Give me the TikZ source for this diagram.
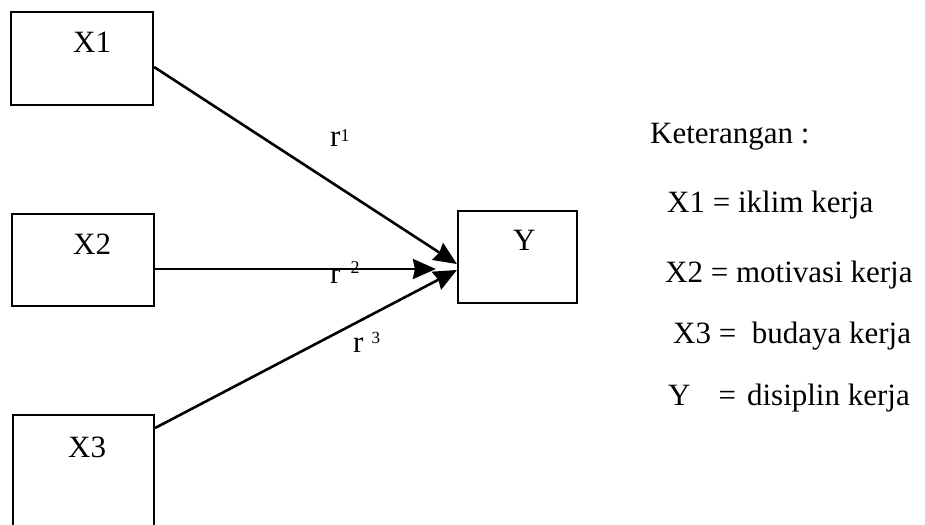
\documentclass[tikz,border=0pt]{standalone}
\usepackage{fontspec}
\setmainfont{Liberation Serif}
\usetikzlibrary{arrows.meta}
\begin{document}
\begin{tikzpicture}[x=1pt,y=-1pt,
  box/.style={draw, line width=2.2pt, inner sep=0pt},
  lbl/.style={anchor=base west, inner sep=0pt, font=\fontsize{31}{37}\selectfont},
  conn/.style={line width=2.6pt, -{Stealth[length=23pt,width=20pt,inset=2pt]}},
]
\useasboundingbox (0,0) rectangle (925,524);
\clip (0,0) rectangle (925,524);
\fill[white] (0,0) rectangle (925,524);

% boxes
\node[box, minimum width=142pt, minimum height=93pt] (X1) at (82,58.5) {};
\node[box, minimum width=142pt, minimum height=92pt] (X2) at (83,260) {};
\node[box, minimum width=141pt, minimum height=130pt] (X3) at (83.5,480) {};
\node[box, minimum width=119pt, minimum height=92pt] (Y) at (517.5,257) {};

% box labels
\node[lbl] (tX1) at (73,53) {X1};
\node[lbl] (tX2) at (73,254) {X2};
\node[lbl] (tX3) at (68,457) {X3};
\node[lbl] (tY) at (513,250) {Y};

% connectors
\draw[conn] ([yshift=-8.5pt]X1.east) -- ([yshift=-7pt]Y.west);
\draw[conn, shorten >=21pt] ([yshift=-9pt]X2.east) -- ([yshift=-12pt]Y.west);
\draw[conn] ([yshift=52pt]X3.east) -- ([yshift=-13pt]Y.west);

% path labels
\node[lbl] (r1) at (330,146) {r\raisebox{5pt}{\fontsize{18}{18}\selectfont 1}};
\node[lbl] (r2) at (330,283) {r\hspace{10pt}\raisebox{10pt}{\fontsize{18}{18}\selectfont 2}};
\node[lbl] (r3) at (353,352) {r\hspace{8pt}\raisebox{9pt}{\fontsize{17}{17}\selectfont 3}};

% legend
\node[lbl] (leg0) at (650,143) {Keterangan :};
\node[lbl] (leg1) at (667,212) {X1 = iklim kerja};
\node[lbl] (leg2) at (665,282) {X2 = motivasi kerja};
\node[lbl] (leg3) at (673,343) {X3 = \ budaya kerja};
\node[lbl] (leg4) at (668,405) {Y\hspace{28pt}=\hspace{11pt}disiplin kerja};
\end{tikzpicture}
\end{document}
